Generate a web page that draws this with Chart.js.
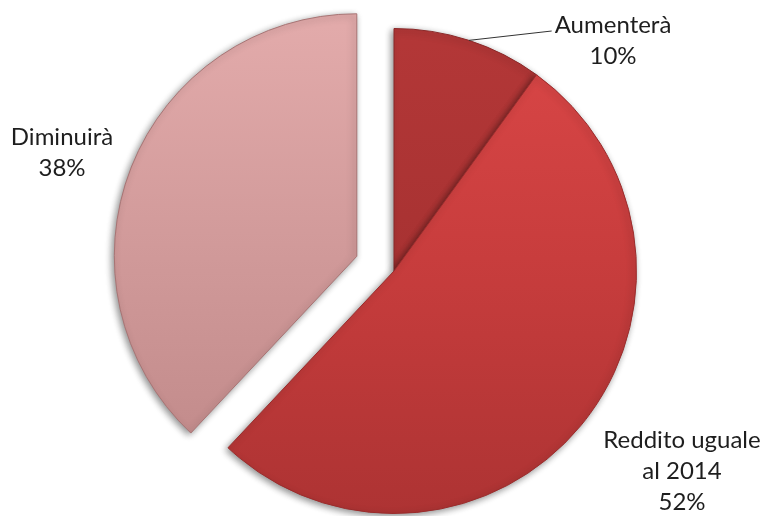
<!DOCTYPE html>
<html>
<head>
<meta charset="utf-8">
<script src="https://cdn.jsdelivr.net/npm/chart.js@4"></script>
<style>
  body { margin: 0; background: #fff; }
  #wrap { width: 766px; height: 516px; }
</style>
</head>
<body>
<div id="wrap"><canvas id="chart" width="766" height="516"></canvas></div>
<script>
// dati
const categories = ['Aumenterà', 'Reddito uguale al 2014', 'Diminuirà'];
const labelLines = [['Aumenterà'], ['Reddito uguale', 'al 2014'], ['Diminuirà']];
const values = [10, 52, 38];

// stile
const explode = [0, 0, 40];
const gradStops = [
  ['#b53838', '#a83232', '#9c2d2d'],
  ['#dc4848', '#c83d3d', '#ad3333'],
  ['#e4acac', '#d09999', '#bd8686']
];
const borderColors = ['#8a2828', '#9a2c2c', '#a87474'];
// posizione del testo rispetto al centro della torta
const labelOffsets = [[219, -238], [288, 177], [-332, -126]];
const lineHeight = 31;

function sliceGradient(context) {
  const chart = context.chart;
  const i = context.dataIndex;
  const g = chart.ctx.createLinearGradient(0, 0, 0, chart.height);
  g.addColorStop(0, gradStops[i][0]);
  g.addColorStop(0.5, gradStops[i][1]);
  g.addColorStop(1, gradStops[i][2]);
  return g;
}

// sposta la fetta esplosa lungo la sua bisettrice
const explodePlugin = {
  id: 'explode',
  afterUpdate(chart) {
    const meta = chart.getDatasetMeta(0);
    meta.data.forEach((arc, i) => {
      if (!explode[i]) return;
      const mid = (arc.startAngle + arc.endAngle) / 2;
      arc.x += Math.cos(mid) * explode[i];
      arc.y += Math.sin(mid) * explode[i];
    });
  }
};

// ombra sotto le fette
const shadowPlugin = {
  id: 'shadow',
  beforeDatasetsDraw(chart) {
    const ctx = chart.ctx;
    ctx.save();
    ctx.shadowColor = 'rgba(0,0,0,0.45)';
    ctx.shadowBlur = 7;
    ctx.shadowOffsetX = -2;
    ctx.shadowOffsetY = 2;
  },
  afterDatasetsDraw(chart) {
    chart.ctx.restore();
  }
};

// etichette con percentuale
const labelPlugin = {
  id: 'sliceLabels',
  afterDraw(chart) {
    const ctx = chart.ctx;
    const meta = chart.getDatasetMeta(0);
    const cx = meta.data[0].x;
    const cy = meta.data[0].y;
    ctx.save();
    ctx.font = '24px Lato';
    ctx.fillStyle = '#1e1e1e';
    ctx.textAlign = 'center';
    ctx.textBaseline = 'alphabetic';
    meta.data.forEach((arc, i) => {
      const x = cx + labelOffsets[i][0];
      const y = cy + labelOffsets[i][1];
      const lines = labelLines[i].concat([values[i] + '%']);
      lines.forEach((t, k) => ctx.fillText(t, x, y + k * lineHeight));
    });

    // linea guida per Aumenterà
    const a = meta.data[0];
    const mid = (a.startAngle + a.endAngle) / 2;
    const sx = a.x + Math.cos(mid) * a.outerRadius;
    const sy = a.y + Math.sin(mid) * a.outerRadius;
    const w = ctx.measureText(labelLines[0][0]).width;
    ctx.strokeStyle = '#333';
    ctx.lineWidth = 1;
    ctx.beginPath();
    ctx.moveTo(sx, sy);
    ctx.lineTo(cx + labelOffsets[0][0] - w / 2 - 3, cy + labelOffsets[0][1] - 2);
    ctx.stroke();
    ctx.restore();
  }
};

new Chart(document.getElementById('chart'), {
  type: 'pie',
  data: {
    labels: categories,
    datasets: [{
      data: values,
      backgroundColor: sliceGradient,
      borderColor: borderColors,
      borderWidth: 1,
      clip: false
    }]
  },
  options: {
    responsive: false,
    animation: false,
    layout: { padding: { top: 28, bottom: 2, left: 22, right: 0 } },
    plugins: {
      legend: { display: false },
      tooltip: { enabled: false }
    }
  },
  plugins: [explodePlugin, shadowPlugin, labelPlugin]
});
</script>
</body>
</html>
